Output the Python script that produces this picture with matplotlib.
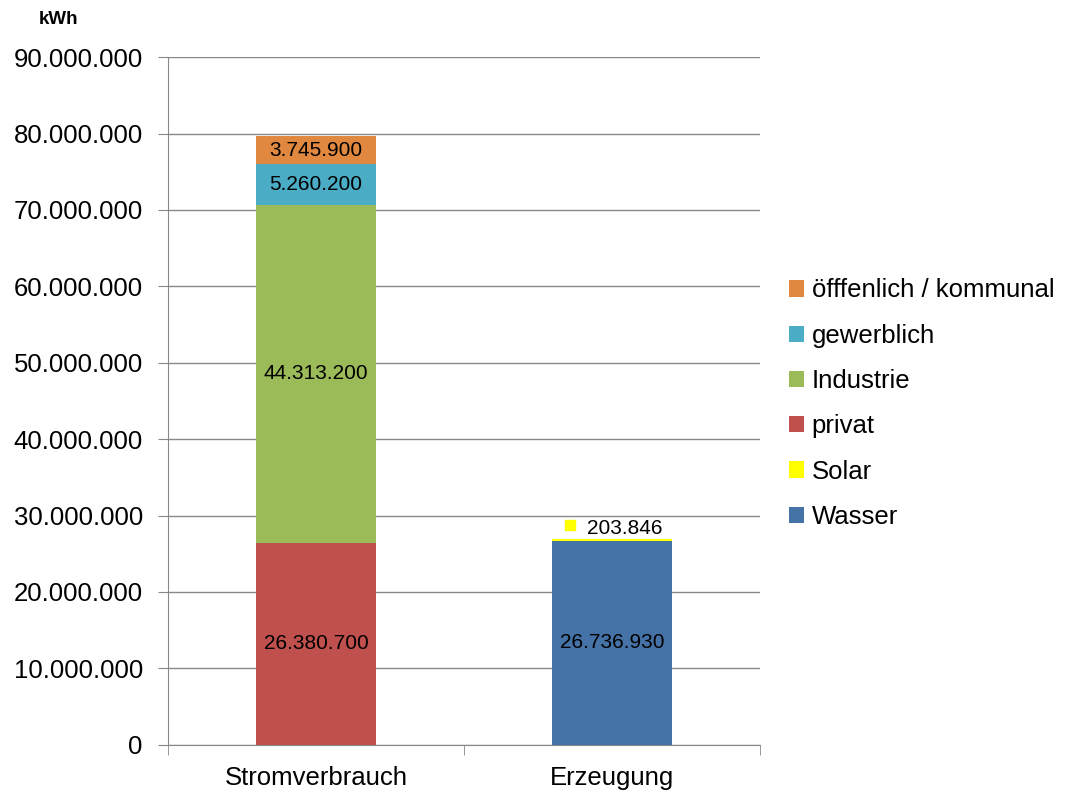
import matplotlib.pyplot as plt
from matplotlib.ticker import FuncFormatter

plt.rcParams['font.family'] = ['Liberation Sans', 'DejaVu Sans']

kategorien = ["Stromverbrauch", "Erzeugung"]

# Werte in kWh (je Kategorie, 0 = kein Anteil)
wasser = [0, 26736930]
solar = [0, 203846]
privat = [26380700, 0]
industrie = [44313200, 0]
gewerblich = [5260200, 0]
oeffentlich = [3745900, 0]

serien = [
    ("Wasser", wasser, "#4572A7"),
    ("Solar", solar, "#FFFF00"),
    ("privat", privat, "#C0504D"),
    ("Industrie", industrie, "#9BBB59"),
    ("gewerblich", gewerblich, "#4BACC6"),
    ("öfffenlich / kommunal", oeffentlich, "#E0883F"),
]


def punkt_format(v, pos=None):
    return f"{v:,.0f}".replace(",", ".")


fig = plt.figure(figsize=(10.69, 7.94), dpi=100)
ax = fig.add_axes([0.157, 0.062, 0.554, 0.866])

x = [0, 1]
breite = 0.405
unten = [0, 0]
for name, werte, farbe in serien:
    ax.bar(x, werte, breite, bottom=unten, color=farbe, label=name, zorder=3)
    for i, w in enumerate(werte):
        if w > 1000000:
            ax.text(x[i], unten[i] + w / 2, punkt_format(w), ha="center", va="center",
                    fontsize=15, color="black", zorder=4)
    unten = [u + w for u, w in zip(unten, werte)]

# Solar-Beschriftung oberhalb des Balkens mit Legendensymbol
solar_top = wasser[1] + solar[1]
ax.annotate(punkt_format(solar[1]), (x[1], solar_top), xytext=(9, 1),
            textcoords="offset points", ha="center", va="bottom", fontsize=15, zorder=4)
ax.plot([x[1]], [solar_top], marker="s", markersize=7, color="#FFFF00", linestyle="none",
        transform=ax.transData + plt.matplotlib.transforms.ScaledTranslation(
            -0.42, 0.135, fig.dpi_scale_trans), zorder=4)

ax.set_xlim(-0.5, 1.5)
ax.set_ylim(0, 90000000)
ax.set_yticks(range(0, 90000001, 10000000))
ax.yaxis.set_major_formatter(FuncFormatter(punkt_format))
ax.tick_params(axis="y", labelsize=18.5, length=7, color="#888888", pad=11)

ax.set_xticks(x)
ax.set_xticklabels(kategorien)
ax.set_xticks([-0.5, 0.5, 1.5], minor=True)
ax.tick_params(axis="x", which="major", length=0, labelsize=18.5, pad=15)
ax.tick_params(axis="x", which="minor", length=7, color="#888888")

ax.grid(axis="y", color="#888888", linewidth=1, zorder=0)
for s in ["top", "right"]:
    ax.spines[s].set_visible(False)
for s in ["left", "bottom"]:
    ax.spines[s].set_color("#888888")

fig.text(0.036, 0.975, "kWh", fontsize=13.5, fontweight="bold", ha="left", va="center")

handles, labels = ax.get_legend_handles_labels()
ax.legend(handles[::-1], labels[::-1], loc="center left", bbox_to_anchor=(1.031, 0.496),
          frameon=False, fontsize=18.5, handlelength=0.6, handleheight=0.6,
          handletextpad=0.3, labelspacing=0.83, borderaxespad=0)

fig.savefig("out.png", dpi=100)
